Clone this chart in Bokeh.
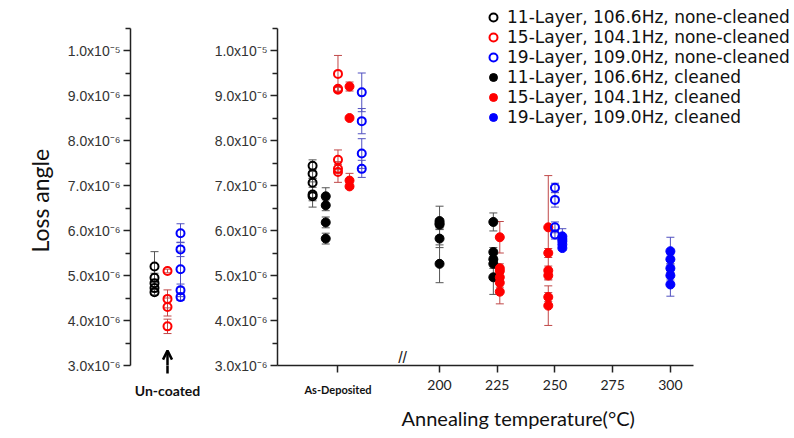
from bokeh.plotting import figure
from bokeh.models import (Range1d, FixedTicker, Whisker, TeeHead, ColumnDataSource,
                          Legend, LegendItem, Label, Arrow, OpenHead, LinearAxis, Title)
from bokeh.layouts import row
from bokeh.embed import file_html
from bokeh.resources import INLINE

# ---------------- data (loss angle in units of 1e-6) ----------------
y_ticks = [3, 4, 5, 6, 7, 8, 9, 10]
y_minor = [3.5, 4.5, 5.5, 6.5, 7.5, 8.5, 9.5, 10.5]
y_tick_labels = ["3.0x10⁻⁶", "4.0x10⁻⁶", "5.0x10⁻⁶", "6.0x10⁻⁶",
                 "7.0x10⁻⁶", "8.0x10⁻⁶", "9.0x10⁻⁶", "1.0x10⁻⁵"]
x_ticks = [156, 200, 225, 250, 275, 300]
x_tick_labels = ["", "200", "225", "250", "275", "300"]
as_dep_x = 156
as_dep_label = "As-Deposited"
break_x = 184

# Un-coated panel (x = offset around the "Un-coated" position 0)
unc11_x = [-13, -13, -13, -13, -13]
unc11_y = [5.20, 4.95, 4.83, 4.72, 4.63]
unc11_e = [0.33, 0.10, 0.08, 0.08, 0.06]
unc15_x = [0, 0, 0, 0]
unc15_y = [5.10, 4.48, 4.30, 3.87]
unc15_e = [0.04, 0.20, 0.20, 0.16]
unc19_x = [13, 13, 13, 13, 13]
unc19_y = [5.94, 5.58, 5.14, 4.67, 4.52]
unc19_e = [0.21, 0.16, 0.40, 0.14, 0.07]

# Annealing panel
n11_x = [145, 145, 145, 145, 145]
n11_y = [7.44, 7.26, 7.06, 6.80, 6.76]
n11_e = [0.13, 0.10, 0.10, 0.28, 0.10]
c11_x = [150.7, 150.7, 150.7, 150.7, 200, 200, 200, 200, 200,
         223.3, 223.3, 223.3, 223.3, 223.3]
c11_y = [6.76, 6.56, 6.18, 5.82, 6.21, 6.16, 6.13, 5.82, 5.26,
         6.19, 5.52, 5.36, 5.26, 4.96]
c11_e = [0.19, 0.12, 0.12, 0.12, 0.33, 0.10, 0.10, 0.20, 0.42,
         0.20, 0.10, 0.10, 0.10, 0.38]
n15_x = [156, 156, 156, 156, 156, 156]
n15_y = [9.48, 9.15, 9.13, 7.57, 7.37, 7.30]
n15_e = [0.41, 0.05, 0.05, 0.22, 0.10, 0.23]
c15_x = [161, 161, 161, 161, 226.1, 226.1, 226.1, 226.1, 226.1, 226.1,
         247.1, 247.1, 247.1, 247.1, 247.1, 247.1]
c15_y = [9.20, 8.50, 7.11, 6.98, 5.85, 5.16, 5.10, 4.96, 4.84, 4.64,
         6.07, 5.50, 5.11, 5.00, 4.52, 4.33]
c15_e = [0.10, 0.03, 0.16, 0.05, 0.35, 0.10, 0.10, 0.10, 0.10, 0.27,
         1.15, 0.10, 0.10, 0.10, 0.10, 0.44]
n19_x = [166.3, 166.3, 166.3, 166.3, 250, 250, 250, 250]
n19_y = [9.07, 8.43, 7.71, 7.37, 6.95, 6.68, 6.07, 5.91]
n19_e = [0.43, 0.28, 0.33, 0.19, 0.10, 0.16, 0.12, 0.10]
c19_x = [253.2, 253.2, 253.2, 253.2, 253.2, 300, 300, 300, 300, 300]
c19_y = [5.87, 5.81, 5.76, 5.69, 5.61, 5.54, 5.36, 5.16, 5.00, 4.80]
c19_e = [0.17, 0.05, 0.05, 0.05, 0.05, 0.31, 0.10, 0.10, 0.10, 0.26]

legend_labels = ["11-Layer, 106.6Hz, none-cleaned", "15-Layer, 104.1Hz, none-cleaned",
                 "19-Layer, 109.0Hz, none-cleaned", "11-Layer, 106.6Hz, cleaned",
                 "15-Layer, 104.1Hz, cleaned", "19-Layer, 109.0Hz, cleaned"]

BLACK, RED, BLUE = "#000000", "#ff0000", "#0000ff"
BAR = {BLACK: "#555555", RED: "#c04848", BLUE: "#5050c0"}

H = 438
PXU = 45.0          # pixels per 1e-6
FRAME_H = 365       # frame height (axis y = 3.0 at frame bottom)
BOT = H - FRAME_H


def style_y(p):
    ax = p.yaxis[0]
    ax.ticker = FixedTicker(ticks=y_ticks, minor_ticks=y_minor)
    ax.bounds = (3, 10.5)
    ax.major_label_overrides = dict(zip(y_ticks, y_tick_labels))
    ax.major_label_text_font = "Liberation Sans"
    ax.major_label_text_font_size = "14px"
    ax.major_label_text_color = "#333333"
    ax.axis_line_width = 1.5
    ax.axis_line_color = "#222222"
    ax.major_tick_line_width = 1.5
    ax.major_tick_line_color = "#222222"
    ax.minor_tick_line_width = 1.5
    ax.minor_tick_line_color = "#222222"
    ax.major_tick_out = 7
    ax.major_tick_in = 0
    ax.minor_tick_out = 5
    ax.minor_tick_in = 0
    ax.major_label_standoff = 3


def add_series(p, xs, ys, es, color, filled):
    src = ColumnDataSource(dict(x=xs, y=ys,
                                upper=[a + b for a, b in zip(ys, es)],
                                lower=[a - b for a, b in zip(ys, es)]))
    bc = BAR[color]
    w = Whisker(base="x", upper="upper", lower="lower", source=src,
                line_color=bc, line_width=1,
                upper_head=TeeHead(size=8, line_color=bc, line_width=1),
                lower_head=TeeHead(size=8, line_color=bc, line_width=1))
    p.add_layout(w)
    if filled:
        r = p.scatter("x", "y", source=src, size=9, marker="circle",
                      fill_color=color, line_color=color, line_width=1)
    else:
        r = p.scatter("x", "y", source=src, size=8, marker="circle",
                      fill_color=None, line_color=color, line_width=2)
    return r


Y_RANGE_END = 3 + FRAME_H / PXU

# ---------------- left panel: Un-coated ----------------
p1 = figure(width=205, height=H, output_backend="svg", toolbar_location=None,
            x_range=Range1d(-37, 38), y_range=Range1d(3, Y_RANGE_END),
            min_border_left=130, min_border_right=0,
            min_border_top=0, min_border_bottom=BOT)
p1.outline_line_color = None
p1.grid.visible = False
style_y(p1)
p1.add_layout(Title(text="Loss  angle", align="left", offset=113,
                    vertical_align="top", standoff=17,
                    text_font="Lato", text_font_size="23px", text_font_style="normal",
                    text_color="#111111"), "left")
xa = p1.xaxis[0]
xa.ticker = FixedTicker(ticks=[0], minor_ticks=[])
xa.major_label_overrides = {0: "Un-coated"}
xa.axis_line_color = None
xa.major_tick_line_color = "#000000"
xa.major_tick_line_width = 2.5
xa.major_tick_out = 8
xa.major_tick_in = 0
xa.minor_tick_line_color = None
xa.major_label_text_font = "Lato"
xa.major_label_text_font_style = "bold"
xa.major_label_text_font_size = "14px"
xa.major_label_text_color = "#111111"
xa.major_label_standoff = 8

add_series(p1, unc11_x, unc11_y, unc11_e, BLACK, False)
add_series(p1, unc15_x, unc15_y, unc15_e, RED, False)
add_series(p1, unc19_x, unc19_y, unc19_e, BLUE, False)
p1.add_layout(Arrow(end=OpenHead(size=9, line_width=2.5, line_color="#000000"),
                    x_start=0, y_start=3.0, x_end=0, y_end=3.33,
                    line_width=2.5, line_color="#000000"))

# ---------------- right panel: As-deposited / annealed ----------------
p2 = figure(width=587, height=H, output_backend="svg", toolbar_location=None,
            x_range=Range1d(129.8, 352.9), y_range=Range1d(3, Y_RANGE_END),
            min_border_left=72, min_border_right=0,
            min_border_top=0, min_border_bottom=BOT)
p2.outline_line_color = None
p2.grid.visible = False
style_y(p2)
xb = p2.xaxis[0]
xb.ticker = FixedTicker(ticks=x_ticks, minor_ticks=[])
xb.bounds = (129.8, 310)
xb.major_label_overrides = dict(zip(x_ticks, x_tick_labels))
xb.major_label_text_font = "Lato"
xb.major_label_text_font_size = "14px"
xb.major_label_text_color = "#222222"
xb.axis_line_width = 1.5
xb.axis_line_color = "#222222"
xb.major_tick_line_width = 1.5
xb.major_tick_line_color = "#222222"
xb.major_tick_out = 7
xb.major_tick_in = 0
xb.major_label_standoff = 7

xc = LinearAxis(ticker=FixedTicker(ticks=[as_dep_x], minor_ticks=[]),
                major_label_overrides={as_dep_x: as_dep_label},
                axis_line_color=None, major_tick_line_color=None,
                minor_tick_line_color=None,
                major_label_text_font="Lato", major_label_text_font_style="bold",
                major_label_text_font_size="11px", major_label_text_color="#111111",
                major_label_standoff=-16)
p2.add_layout(xc, "below")
p2.add_layout(Title(text="Annealing temperature(°C)", align="left", offset=124,
                    vertical_align="top", standoff=14,
                    text_font="Lato", text_font_size="20px", text_font_style="normal",
                    text_color="#111111"), "below")

r_n11 = add_series(p2, n11_x, n11_y, n11_e, BLACK, False)
r_c11 = add_series(p2, c11_x, c11_y, c11_e, BLACK, True)
r_n15 = add_series(p2, n15_x, n15_y, n15_e, RED, False)
r_c15 = add_series(p2, c15_x, c15_y, c15_e, RED, True)
r_n19 = add_series(p2, n19_x, n19_y, n19_e, BLUE, False)
r_c19 = add_series(p2, c19_x, c19_y, c19_e, BLUE, True)

p2.add_layout(Label(x=break_x, y=3.0, text="//", text_align="center",
                    text_baseline="bottom", text_font="Liberation Sans",
                    text_font_size="16px", text_color="#222222"))

legend = Legend(items=[LegendItem(label=t, renderers=[r]) for t, r in
                       zip(legend_labels, [r_n11, r_n15, r_n19, r_c11, r_c15, r_c19])],
                location=(206, 238), label_text_font="DejaVu Sans", label_text_font_size="17px",
                label_text_color="#111111", glyph_width=20, glyph_height=20,
                label_height=20, spacing=0, padding=0, margin=0, label_standoff=4,
                background_fill_alpha=0, border_line_alpha=0)
p2.add_layout(legend)

layout = row(p1, p2)
open("out.html", "w").write(file_html(layout, INLINE))
